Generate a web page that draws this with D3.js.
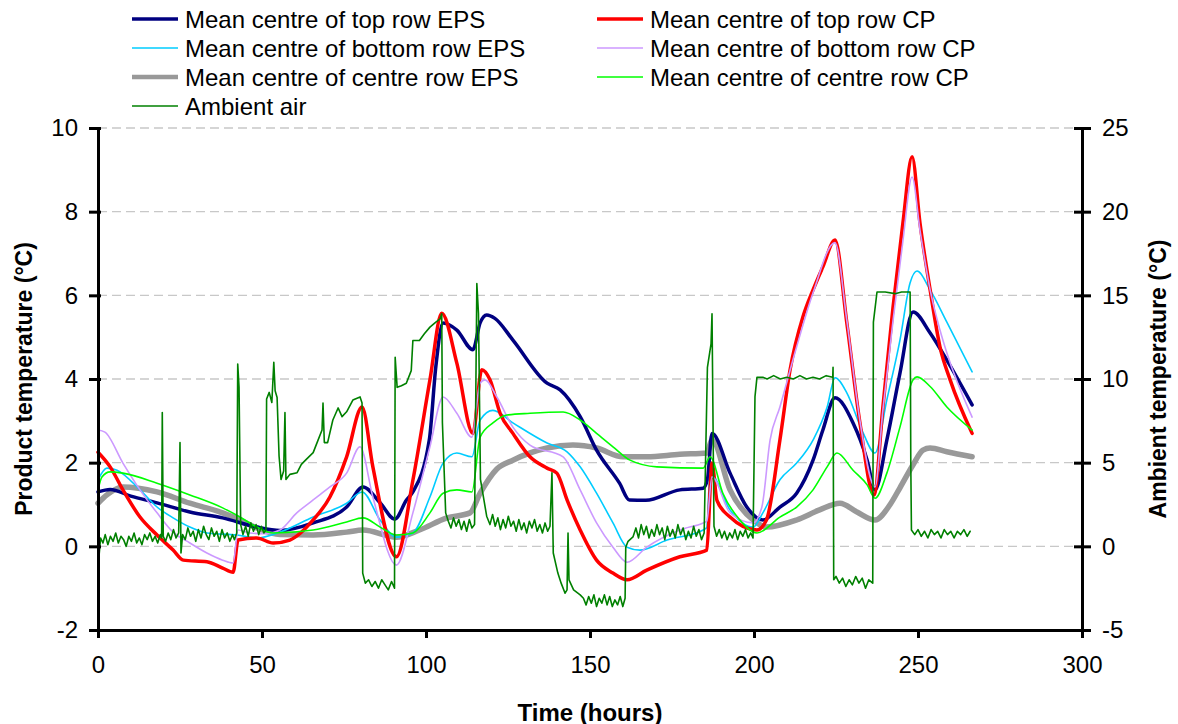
<!DOCTYPE html>
<html>
<head>
<meta charset="utf-8">
<script src="https://cdn.jsdelivr.net/npm/d3@7"></script>
<style>
  body { margin: 0; background: #fff; }
  text { font-family: "Liberation Sans", Arial, sans-serif; fill: #000; }
</style>
</head>
<body>
<div id="chart"></div>
<script>
  // [time (h), product temperature (°C)]
  const topRowEPS = [[0,1.3],[3.7,1.36],[10,1.2],[18,1.04],[28,0.82],[38,0.68],[48.4,0.46],[55.5,0.38],[65.6,0.56],[75.8,0.94],[80.8,1.42],[86,1.04],[90.5,0.65],[94,1.1],[96,1.3],[101,2.54],[103,4.3],[105.2,5.34],[109.4,5.17],[114.3,4.7],[116.5,5.34],[118.5,5.53],[121,5.45],[126.5,4.93],[136.9,3.9],[140.9,3.74],[147,3.1],[152,2.3],[159,1.51],[162,1.11],[167,1.1],[177.4,1.35],[184.5,1.39],[185.8,1.6],[187.2,2.7],[192.7,1.75],[197.8,0.94],[202.7,0.63],[207.9,0.94],[213,1.27],[218,2.06],[221,2.78],[224.7,3.55],[230.2,2.95],[234.5,2.06],[236.9,1.35],[240.5,2.54],[244.5,4.14],[248.5,5.6],[253.7,5.1],[258.8,4.45],[266.5,3.38]];
  const bottomRowEPS = [[0,1.59],[2.7,1.87],[5.8,1.82],[12.8,1.35],[18,0.94],[22.9,0.68],[28,0.46],[33.2,0.32],[42.4,0.27],[48.4,0.2],[55.5,0.34],[65.6,0.7],[75.8,1.03],[80.5,1.3],[86,0.63],[91,0.22],[96,0.32],[101.2,1.18],[105.2,1.99],[109.4,2.23],[114,2.14],[116.5,3.02],[120.4,3.25],[126.5,2.95],[136.9,2.47],[143,2.26],[147,1.9],[152,1.27],[157,0.56],[161.3,-0.02],[165.2,-0.09],[173.5,0.15],[184.5,0.39],[185.6,0.45],[186.6,1.75],[192.7,0.87],[199.7,0.46],[202.7,0.8],[207.9,1.59],[213,1.99],[218,2.54],[222.3,3.33],[224.7,4.03],[228.3,3.67],[232.9,2.78],[236.9,2.23],[240.5,3.5],[244.5,4.93],[247.6,6.3],[249.7,6.58],[253.7,6.13],[258.8,5.36],[266.5,4.17]];
  const centreRowEPS = [[0,1.03],[2.7,1.23],[7.6,1.42],[18,1.3],[28,1.03],[38,0.8],[43.3,0.63],[48.4,0.44],[55.5,0.28],[65.6,0.27],[75.8,0.34],[80.8,0.39],[91,0.22],[98,0.39],[106.4,0.68],[113.4,0.8],[116.5,1.27],[121.6,1.85],[126.5,2.06],[136.9,2.35],[144.8,2.42],[152,2.35],[160.1,2.14],[167.3,2.14],[177.4,2.2],[185.6,2.23],[187.2,2.54],[192.7,1.35],[199.7,0.63],[203.8,0.46],[213,0.63],[220,0.87],[226.2,1.03],[231.4,0.82],[236.9,0.63],[241.5,1.0],[244.5,1.4],[248.5,1.95],[251.5,2.3],[253.7,2.35],[258.8,2.26],[266.5,2.14]];
  const topRowCP = [[0,2.25],[3.7,1.9],[7.6,1.35],[12.8,0.7],[18,0.27],[22.9,-0.09],[26,-0.33],[33.2,-0.37],[38,-0.52],[41.2,-0.62],[42.7,0.15],[48.4,0.2],[53.4,0.08],[58.5,0.15],[65.6,0.63],[70.7,1.18],[75.8,2.14],[80.5,3.33],[83.8,1.9],[91,-0.25],[96,1.58],[101.2,3.98],[104.8,5.57],[109.4,4.38],[114.3,2.7],[117,4.22],[119.5,3.98],[122.6,3.18],[126.5,2.7],[131.7,2.14],[136.9,1.87],[139.9,1.75],[143,1.11],[147,0.39],[152,-0.33],[157,-0.64],[161.3,-0.8],[167.3,-0.57],[177.4,-0.25],[185.6,-0.09],[187.2,1.99],[188.7,1.1],[192.7,0.7],[200.9,0.39],[203.8,0.63],[207.9,2.54],[211,4.22],[214.9,5.48],[218,6.13],[221,6.68],[224.7,7.32],[228.3,5.34],[232.3,2.95],[236.6,1.23],[239.3,3.33],[242.4,5.72],[245.4,7.73],[248.2,9.31],[250.6,7.73],[253.7,6.13],[256.7,4.77],[259.8,3.98],[266.5,2.7]];
  const bottomRowCP = [[0,2.78],[2.1,2.73],[7.6,1.99],[12.8,1.35],[18,0.8],[22.9,0.34],[28,0.08],[33.2,-0.16],[38,-0.33],[41.2,-0.4],[42.7,0.39],[46.3,0.32],[51,0.3],[55.5,0.39],[60.6,0.8],[65.6,1.11],[70.7,1.42],[75.8,1.75],[79.9,2.38],[83.8,1.18],[91,-0.45],[96,0.8],[101.2,2.38],[105.2,3.57],[109.4,3.18],[114,2.61],[116.5,3.9],[118,3.98],[121.6,3.57],[126.5,2.85],[131.7,2.42],[141.8,2.14],[147,1.35],[152,0.56],[157,-0.02],[161.3,-0.38],[167.3,-0.02],[177.4,0.39],[184.5,0.56],[185.6,0.6],[187.2,1.66],[192.7,0.8],[199.7,0.56],[202.4,0.94],[204.9,2.54],[207.9,3.33],[213,4.77],[218,6.06],[224.7,7.26],[228.3,5.4],[232.3,3.0],[236.9,1.42],[239.3,3.26],[242.4,5.4],[245.4,7.3],[248.2,8.83],[250.6,7.56],[253.7,6.13],[256.7,5.17],[258.8,4.62],[266.5,3.09]];
  const centreRowCP = [[0,1.35],[1.2,1.66],[3.7,1.78],[7.6,1.75],[18,1.51],[28,1.23],[38,0.92],[43.3,0.7],[48.4,0.46],[53.4,0.32],[65.6,0.39],[75.8,0.58],[80.8,0.68],[86,0.46],[91,0.27],[96,0.32],[101.2,0.8],[105.2,1.27],[109.4,1.35],[114,1.3],[116.5,2.61],[120.4,2.95],[124.7,3.14],[131.7,3.18],[141.8,3.21],[147,3.02],[152,2.7],[157,2.38],[162.2,2.06],[170.4,1.9],[184.5,1.87],[186.6,2.14],[190.5,1.27],[195.7,0.63],[200.9,0.32],[207.9,0.7],[213,0.94],[218,1.35],[222.3,1.9],[225.3,2.23],[230.2,1.82],[234.5,1.47],[236.9,1.15],[240.5,1.75],[244.5,2.85],[248.5,3.98],[249.7,4.05],[253.7,3.82],[258.8,3.33],[266.5,2.78]];

  // [time (h), ambient temperature (°C)] - right axis
  const ambientAir = [[0,0.5],[0.3,-0.6],[0.8,0.5],[1.5,0.2],[2.2,0.7],[3,0.1],[3.8,0.6],[4.6,0.3],[5.4,0.8],[6.2,0.2],[7,0.6],[7.8,0.4],[8.6,0.0],[9.4,0.6],[10.2,0.3],[11,0.8],[11.8,0.2],[12.6,0.5],[13.4,0.1],[14.2,0.7],[15,0.4],[15.8,0.8],[16.6,0.3],[17.4,0.6],[18.2,0.2],[19,0.7],[19.4,0.5],[19.6,8.0],[19.9,0.6],[20.6,0.3],[21.4,0.8],[22.2,0.4],[23,1.0],[23.8,0.5],[24.6,0.8],[25,6.2],[25.3,-0.4],[25.8,0.7],[26.6,0.4],[27.4,1.1],[28.2,0.6],[29,0.9],[29.8,0.3],[30.6,1.0],[31.4,0.5],[32.2,1.2],[33,0.7],[33.8,0.4],[34.6,1.1],[35.4,0.6],[36.2,0.9],[37,0.3],[37.8,1.0],[38.6,0.5],[39.4,0.8],[40.2,0.3],[41,0.7],[41.6,0.4],[42.3,0.8],[42.6,10.9],[43.0,9.5],[43.5,1.3],[44.2,0.7],[45,1.2],[45.8,0.6],[46.6,1.4],[47.4,0.9],[48.2,1.3],[49,0.7],[49.8,1.2],[50.6,0.8],[51.2,1.0],[51.4,8.8],[52.2,9.2],[53,8.6],[53.6,11.0],[54,9.3],[54.6,8.9],[55.2,5.4],[55.8,4.0],[56.6,4.5],[57,8.0],[57.3,4.0],[58.5,4.3],[60.7,4.4],[62,4.9],[63.5,5.2],[65.6,5.6],[67,6.3],[68.3,6.95],[68.6,8.56],[69,6.2],[70,6.2],[71.6,7.55],[73.2,8.27],[74.4,7.75],[75.8,8.04],[77.7,8.74],[79.9,8.93],[80.5,8.56],[80.7,-1.6],[81.5,-2.2],[82.5,-2.0],[83.5,-2.4],[84.5,-2.1],[85.5,-2.5],[86.5,-2.0],[87.5,-2.3],[88.5,-2.6],[89.5,-2.1],[90.4,-2.5],[90.6,11.3],[91.2,9.5],[92.5,9.6],[94,9.75],[95.5,10.5],[96,12.3],[98,12.3],[99.5,12.7],[101.2,13.1],[103,13.4],[104.3,13.6],[104.8,13.9],[105.0,7.4],[106.0,2.0],[106.8,1.5],[107.6,1.1],[108.4,1.7],[109.2,1.2],[110,1.6],[110.8,1.0],[111.6,1.5],[112.4,0.9],[113.2,1.6],[114,1.1],[114.8,1.3],[115.5,15.7],[116,13.9],[116.6,4.0],[118.5,1.8],[119.5,1.3],[120.3,1.9],[121.1,1.2],[121.9,1.7],[122.7,1.0],[123.5,1.6],[124.3,1.1],[125.1,1.8],[125.9,1.2],[126.7,1.5],[127.5,0.9],[128.3,1.6],[129.1,1.0],[129.9,1.4],[130.7,0.8],[131.5,1.5],[132.3,1.1],[133.1,1.6],[133.9,0.9],[134.7,1.3],[135.5,0.8],[136.3,1.4],[137.1,0.9],[137.8,1.2],[138.4,4.4],[138.8,-0.4],[140.2,-1.6],[141.2,-2.2],[142.4,-2.8],[143,-2.6],[143.3,0.8],[143.6,-2.0],[145,-2.6],[147,-2.9],[148,-3.1],[148.8,-3.5],[149.6,-3.0],[150.4,-3.4],[151.2,-2.9],[152,-3.6],[152.8,-3.1],[153.6,-3.4],[154.4,-2.9],[155.2,-3.5],[156,-3.0],[156.8,-3.6],[157.6,-3.2],[158.4,-3.5],[159.2,-3.0],[160,-3.6],[160.7,-3.1],[160.9,-0.05],[161.6,0.3],[163.1,0.56],[164,1.1],[164.8,0.5],[165.6,1.3],[166.4,0.7],[167.2,1.2],[168,0.5],[168.8,1.0],[169.6,0.6],[170.4,1.3],[171.2,0.7],[172,1.1],[172.8,0.4],[173.6,1.2],[174.4,0.6],[175.2,1.0],[176,0.5],[176.8,1.3],[177.6,0.7],[178.4,1.1],[179.2,0.4],[180,0.9],[180.8,0.5],[181.6,1.2],[182.4,0.6],[183.2,1.0],[184,0.4],[184.8,0.8],[185.4,6.8],[185.8,10.7],[186.9,12.1],[187.2,13.9],[187.8,1.2],[188.6,0.6],[189.4,1.0],[190.2,0.5],[191,0.9],[191.8,0.4],[192.6,0.8],[193.4,0.5],[194.2,1.0],[195,0.4],[195.8,0.9],[196.6,0.6],[197.4,1.0],[198.2,0.5],[199,0.8],[199.7,0.5],[200.3,8.95],[200.9,10.1],[202.7,10.1],[204,10.0],[206,10.2],[208,10.0],[210,10.1],[212,10.0],[214,10.2],[216,10.0],[218,10.1],[220,10.0],[222,10.2],[224,10.1],[224.1,10.7],[224.3,-2.0],[225,-1.8],[226,-2.2],[227,-1.9],[228,-2.4],[229,-2.0],[230,-2.3],[231,-1.8],[232,-2.2],[233,-1.9],[234,-2.5],[235,-2.0],[236.2,-2.2],[236.4,13.4],[237.5,15.2],[240,15.2],[243,15.1],[245,15.2],[247.6,15.2],[247.8,4.96],[248,0.98],[249,0.7],[250,1.0],[251,0.6],[252,0.9],[253,0.5],[254,1.0],[255,0.7],[256,0.9],[257,0.5],[258,1.0],[259,0.7],[260,0.9],[261,0.5],[262,0.9],[263,0.7],[264,1.0],[265,0.6],[265.9,0.9]];

  const xTicks = [0, 50, 100, 150, 200, 250, 300];
  const yTicks = [-2, 0, 2, 4, 6, 8, 10];
  const y2Ticks = [-5, 0, 5, 10, 15, 20, 25];

  const series = [
    { name: "Mean centre of centre row EPS", data: centreRowEPS, color: "#999999", width: 5.5, axis: "left" },
    { name: "Mean centre of top row EPS", data: topRowEPS, color: "#000080", width: 3.5, axis: "left" },
    { name: "Mean centre of bottom row EPS", data: bottomRowEPS, color: "#00ccff", width: 1.6, axis: "left" },
    { name: "Mean centre of top row CP", data: topRowCP, color: "#ff0000", width: 3.5, axis: "left" },
    { name: "Mean centre of bottom row CP", data: bottomRowCP, color: "#cc99ff", width: 1.6, axis: "left" },
    { name: "Mean centre of centre row CP", data: centreRowCP, color: "#00ff00", width: 1.6, axis: "left" },
    { name: "Ambient air", data: ambientAir, color: "#008000", width: 1.6, axis: "right" }
  ];

  const legendLeft = ["Mean centre of top row EPS", "Mean centre of bottom row EPS", "Mean centre of centre row EPS", "Ambient air"];
  const legendRight = ["Mean centre of top row CP", "Mean centre of bottom row CP", "Mean centre of centre row CP"];

  const W = 1178, H = 724;
  const plot = { left: 98, right: 1082, top: 128, bottom: 630 };

  const svg = d3.select("#chart")
    .append("svg")
    .attr("width", W)
    .attr("height", H);

  // Scales
  const xScale = d3.scaleLinear().domain([0, 300]).range([plot.left, plot.right]);
  const yScale = d3.scaleLinear().domain([-2, 10]).range([plot.bottom, plot.top]);
  const y2Scale = d3.scaleLinear().domain([-5, 25]).range([plot.bottom, plot.top]);

  // Gridlines
  svg.append("g")
    .selectAll("line")
    .data(yTicks.filter(d => d > -2))
    .enter()
    .append("line")
    .attr("x1", plot.left)
    .attr("x2", plot.right)
    .attr("y1", d => yScale(d))
    .attr("y2", d => yScale(d))
    .attr("stroke", "#c8c8c8")
    .attr("stroke-width", 1.3)
    .attr("stroke-dasharray", "9,5");

  // Series (product temps smoothed, ambient kept raw)
  const lineLeft = d3.line().curve(d3.curveMonotoneX).x(d => xScale(d[0])).y(d => yScale(d[1]));
  const lineRight = d3.line().x(d => xScale(d[0])).y(d => y2Scale(d[1]));

  svg.append("g")
    .selectAll("path")
    .data(series)
    .enter()
    .append("path")
    .attr("d", s => (s.axis === "left" ? lineLeft : lineRight)(s.data))
    .attr("fill", "none")
    .attr("stroke", s => s.color)
    .attr("stroke-width", s => s.width)
    .attr("stroke-linejoin", "round")
    .attr("stroke-linecap", "round");

  // Axes
  const plain = d => String(d);
  const axisFont = g => g.selectAll("text")
    .style("font-family", "'Liberation Sans', Arial, sans-serif")
    .style("font-size", "24px")
    .attr("fill", "#000");

  svg.append("g")
    .attr("transform", `translate(0, ${plot.bottom})`)
    .call(d3.axisBottom(xScale).tickValues(xTicks).tickFormat(plain).tickSize(8).tickSizeOuter(0).tickPadding(18))
    .call(axisFont)
    .call(g => g.select(".domain").attr("stroke-width", 3))
    .call(g => g.selectAll(".tick line").attr("stroke-width", 3));

  svg.append("g")
    .attr("transform", `translate(${plot.left}, 0)`)
    .call(d3.axisLeft(yScale).tickValues(yTicks).tickFormat(plain).tickSize(9).tickSizeOuter(0).tickPadding(11))
    .call(axisFont)
    .call(g => g.select(".domain").attr("stroke-width", 3))
    .call(g => g.selectAll(".tick line").attr("stroke-width", 3).attr("x2", -9).attr("x1", 3));

  svg.append("g")
    .attr("transform", `translate(${plot.right}, 0)`)
    .call(d3.axisRight(y2Scale).tickValues(y2Ticks).tickFormat(plain).tickSize(9).tickSizeOuter(0).tickPadding(11))
    .call(axisFont)
    .call(g => g.select(".domain").attr("stroke-width", 3))
    .call(g => g.selectAll(".tick line").attr("stroke-width", 3).attr("x1", -8));

  // Axis titles
  svg.append("text")
    .attr("transform", `translate(24, ${(plot.top + plot.bottom) / 2}) rotate(-90)`)
    .attr("text-anchor", "middle")
    .attr("dominant-baseline", "central")
    .style("font-size", "23px")
    .style("font-weight", "bold")
    .text("Product temperature (°C)");

  svg.append("text")
    .attr("transform", `translate(1158, ${(plot.top + plot.bottom) / 2}) rotate(-90)`)
    .attr("text-anchor", "middle")
    .attr("dominant-baseline", "central")
    .style("font-size", "23px")
    .style("font-weight", "bold")
    .text("Ambient temperature (°C)");

  svg.append("text")
    .attr("x", (plot.left + plot.right) / 2)
    .attr("y", 712)
    .attr("text-anchor", "middle")
    .attr("dominant-baseline", "central")
    .style("font-size", "24px")
    .style("font-weight", "bold")
    .text("Time (hours)");

  // Legend
  const styleOf = name => series.find(s => s.name === name);
  const legendCols = [
    { items: legendLeft, x: 132 },
    { items: legendRight, x: 597 }
  ];
  legendCols.forEach(col => {
    const g = svg.append("g");
    col.items.forEach((name, i) => {
      const s = styleOf(name);
      const yy = 19 + i * 29;
      g.append("line")
        .attr("x1", col.x).attr("x2", col.x + 46)
        .attr("y1", yy).attr("y2", yy)
        .attr("stroke", s.color)
        .attr("stroke-width", Math.min(s.width, 4.5));
      g.append("text")
        .attr("x", col.x + 53)
        .attr("y", yy)
        .attr("dominant-baseline", "central")
        .style("font-size", "24px")
        .text(name);
    });
  });
</script>
</body>
</html>
